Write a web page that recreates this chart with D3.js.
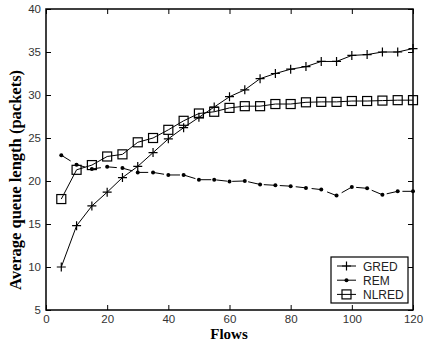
<!DOCTYPE html>
<html>
<head>
<meta charset="utf-8">
<script src="https://cdn.jsdelivr.net/npm/d3@7"></script>
<style>
  body { margin: 0; background: #fff; }
</style>
</head>
<body>
<div class="d3-content"></div>
<script>
const flows = [5, 10, 15, 20, 25, 30, 35, 40, 45, 50, 55, 60, 65, 70, 75, 80, 85, 90, 95, 100, 105, 110, 115, 120];
const gred = [10, 14.8, 17.1, 18.7, 20.4, 21.7, 23.3, 24.9, 26.2, 27.4, 28.6, 29.8, 30.6, 31.9, 32.5, 33.0, 33.3, 33.9, 33.9, 34.6, 34.7, 35.0, 35.0, 35.4];
const rem = [23.0, 21.9, 21.4, 21.65, 21.5, 21.0, 21.0, 20.7, 20.7, 20.15, 20.15, 19.95, 20.0, 19.6, 19.5, 19.4, 19.2, 19.0, 18.3, 19.3, 19.15, 18.4, 18.8, 18.8];
const nlred = [17.9, 21.3, 21.85, 22.85, 23.1, 24.5, 25.0, 25.95, 27.0, 27.85, 28.05, 28.5, 28.7, 28.7, 28.95, 28.95, 29.15, 29.2, 29.2, 29.3, 29.3, 29.35, 29.4, 29.4];
const seriesNames = ['GRED', 'REM', 'NLRED'];
const xTicks = [0, 20, 40, 60, 80, 100, 120];
const yTicks = [5, 10, 15, 20, 25, 30, 35, 40];

const SVG_WIDTH = 424;
const SVG_HEIGHT = 342;
const MARGIN = { top: 9, right: 11, bottom: 32, left: 46 };
const CHART_WIDTH = SVG_WIDTH - MARGIN.left - MARGIN.right;
const CHART_HEIGHT = SVG_HEIGHT - MARGIN.top - MARGIN.bottom;

const svg = d3.select('.d3-content')
  .append('svg')
  .attr('width', SVG_WIDTH)
  .attr('height', SVG_HEIGHT);

const xscale = d3.scaleLinear().domain([0, 120]).range([0, CHART_WIDTH]);
const yscale = d3.scaleLinear().domain([5, 40]).range([CHART_HEIGHT, 0]);

const chart = svg.append('g')
  .attr('transform', `translate(${MARGIN.left}, ${MARGIN.top})`);

const tickFont = g => g.selectAll('text')
  .attr('font-family', 'Liberation Sans, Arial, sans-serif')
  .attr('font-size', 11.5)
  .attr('fill', '#333');

// bottom + left axes with inward ticks
chart.append('g')
  .attr('transform', `translate(0, ${CHART_HEIGHT})`)
  .call(d3.axisBottom(xscale).tickValues(xTicks).tickSizeInner(-5).tickSizeOuter(0).tickPadding(5))
  .call(g => g.select('.domain').remove())
  .call(tickFont);

chart.append('g')
  .call(d3.axisLeft(yscale).tickValues(yTicks).tickSizeInner(-5).tickSizeOuter(0).tickPadding(5))
  .call(g => g.select('.domain').remove())
  .call(tickFont);

// top + right ticks
chart.append('g')
  .call(d3.axisTop(xscale).tickValues(xTicks).tickSizeInner(-5).tickSizeOuter(0).tickFormat(''))
  .call(g => g.select('.domain').remove());

chart.append('g')
  .attr('transform', `translate(${CHART_WIDTH}, 0)`)
  .call(d3.axisRight(yscale).tickValues(yTicks).tickSizeInner(-5).tickSizeOuter(0).tickFormat(''))
  .call(g => g.select('.domain').remove());

// frame
chart.append('rect')
  .attr('width', CHART_WIDTH)
  .attr('height', CHART_HEIGHT)
  .attr('fill', 'none')
  .attr('stroke', '#000')
  .attr('stroke-width', 1.5);

// axis labels
svg.append('text')
  .text('Flows')
  .attr('x', 229)
  .attr('y', 339)
  .attr('text-anchor', 'middle')
  .attr('font-family', 'Liberation Serif, Times New Roman, serif')
  .attr('font-weight', 'bold')
  .attr('font-size', 15);

svg.append('text')
  .text('Average queue length (packets)')
  .attr('transform', 'translate(21, 180) rotate(-90)')
  .attr('text-anchor', 'middle')
  .attr('font-family', 'Liberation Serif, Times New Roman, serif')
  .attr('font-weight', 'bold')
  .attr('font-size', 16.5);

const series = [
  { name: 'GRED', values: gred, dash: null, marker: 'plus' },
  { name: 'REM', values: rem, dash: '11,5', marker: 'dot' },
  { name: 'NLRED', values: nlred, dash: null, marker: 'square' },
];

const generator = d3.line()
  .x(d => xscale(d.x))
  .y(d => yscale(d.y));

function drawMarker(g, type, x, y) {
  if (type === 'plus') {
    g.append('path')
      .attr('d', `M${x - 4.5},${y}H${x + 4.5}M${x},${y - 4.5}V${y + 4.5}`)
      .attr('stroke', '#000')
      .attr('stroke-width', 1.2);
  } else if (type === 'dot') {
    g.append('circle')
      .attr('cx', x).attr('cy', y).attr('r', 2)
      .attr('fill', '#000');
  } else {
    g.append('rect')
      .attr('x', x - 4.5).attr('y', y - 4.5)
      .attr('width', 9).attr('height', 9)
      .attr('fill', 'none')
      .attr('stroke', '#000')
      .attr('stroke-width', 1.2);
  }
}

series.forEach(s => {
  const pts = flows.map((f, i) => ({ x: f, y: s.values[i] }));
  chart.append('path')
    .datum(pts)
    .attr('d', generator)
    .attr('fill', 'none')
    .attr('stroke', '#000')
    .attr('stroke-width', 1)
    .attr('stroke-dasharray', s.dash);
  const mg = chart.append('g');
  pts.forEach(p => drawMarker(mg, s.marker, xscale(p.x), yscale(p.y)));
});

// legend
const legend = svg.append('g').attr('transform', 'translate(331, 257)');
legend.append('rect')
  .attr('width', 77)
  .attr('height', 46)
  .attr('fill', '#fff')
  .attr('stroke', '#000')
  .attr('stroke-width', 1.2);

seriesNames.forEach((name, i) => {
  const s = series.find(d => d.name === name);
  const y = 9 + i * 14.2;
  legend.append('line')
    .attr('x1', 6).attr('x2', 25)
    .attr('y1', y).attr('y2', y)
    .attr('stroke', '#000')
    .attr('stroke-width', 1);
  drawMarker(legend, s.marker, 15.5, y);
  legend.append('text')
    .text(name)
    .attr('x', 32)
    .attr('y', y + 4.5)
    .attr('font-family', 'Liberation Sans, Arial, sans-serif')
    .attr('font-size', 12)
    .attr('fill', '#222');
});
</script>
</body>
</html>
